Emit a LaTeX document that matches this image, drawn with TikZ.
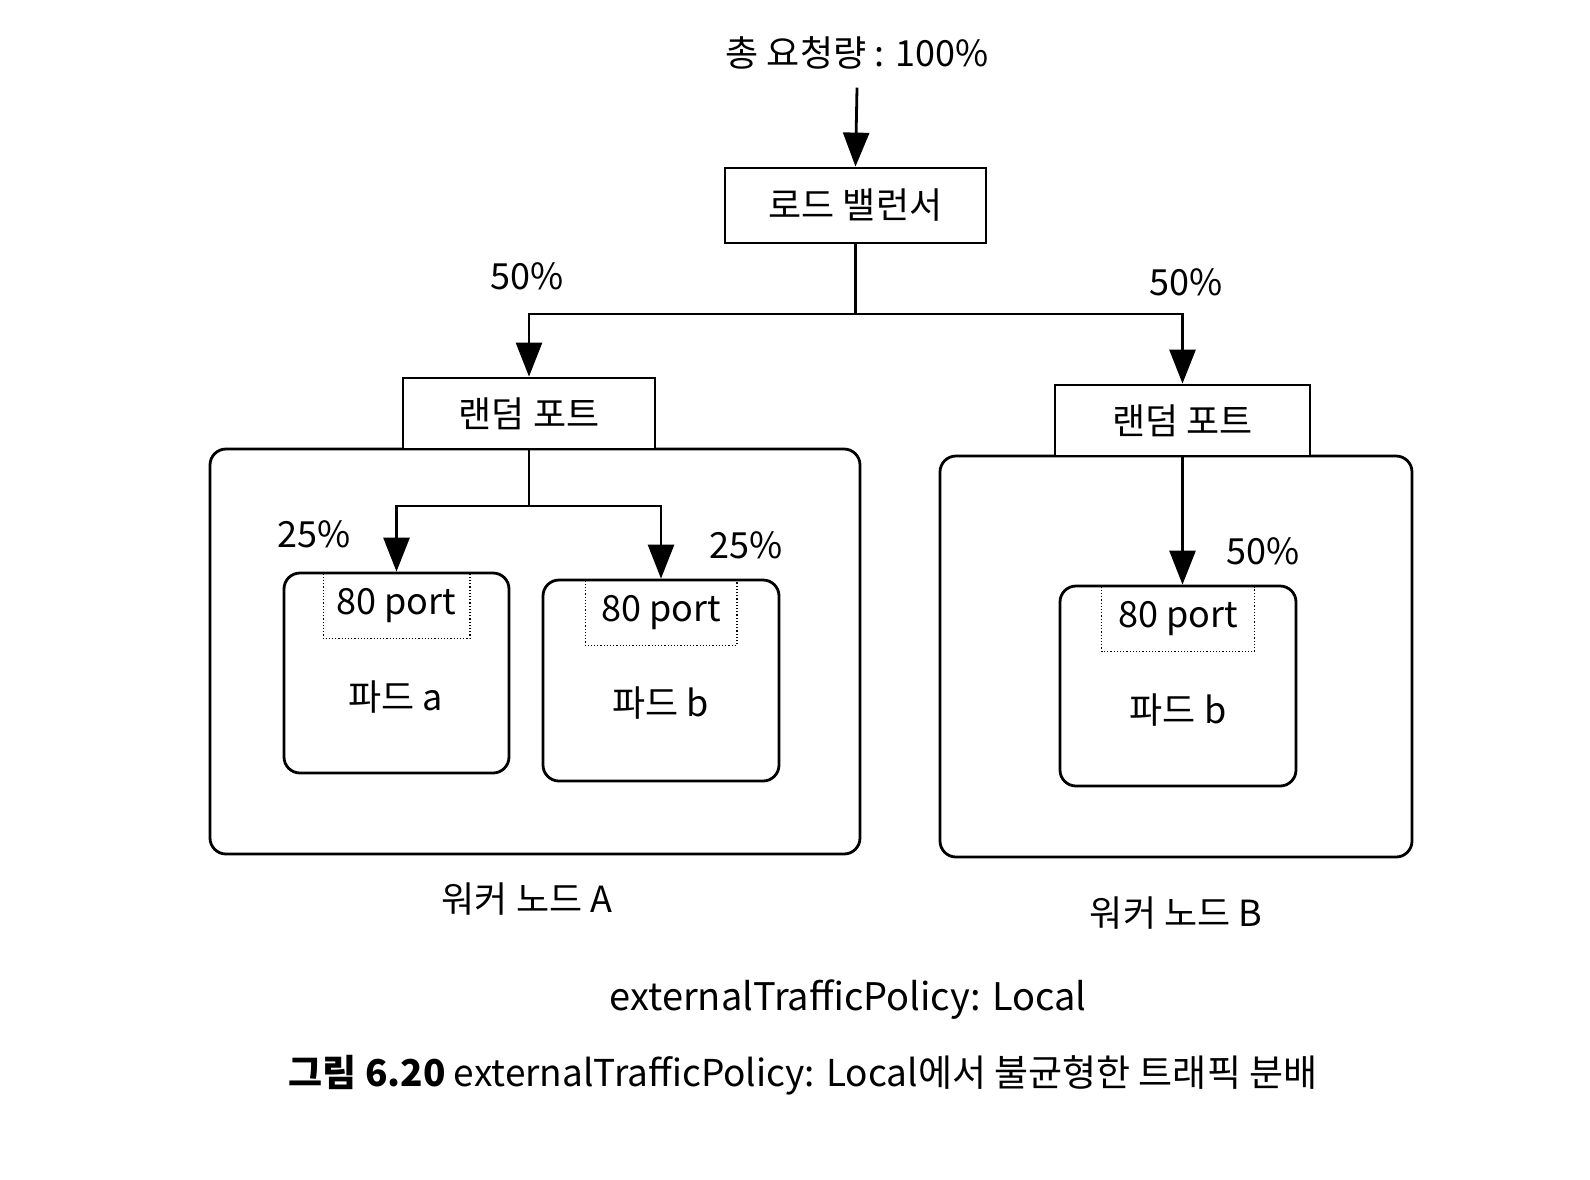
\documentclass[tikz,border=0pt]{standalone}
\usepackage{fontspec}
\setmainfont{Noto Sans CJK KR}
\usetikzlibrary{arrows.meta}
\begin{document}
\begin{tikzpicture}[x=0.5pt,y=-0.5pt,
  txt/.style={font=\fontsize{18}{22}\selectfont, inner sep=0pt},
  box/.style={draw, line width=1.4pt, fill=white, font=\fontsize{18}{22}\selectfont, inner sep=0pt},
  rbox/.style={draw, line width=1.4pt, rounded corners=8pt, inner sep=0pt},
  portbox/.style={font=\fontsize{18}{22}\selectfont, inner sep=0pt, minimum height=32pt},
  arr/.style={line width=1.4pt, -{Triangle[length=17pt,width=13pt]}},
  ln/.style={line width=1.4pt},
  dotbox/.style={line width=0.6pt, densely dotted}
]
\useasboundingbox (0,0) rectangle (1590,1179);

% title
\node[txt] (title) at (857,53) {총 요청량 : 100\%};
\node[box, minimum width=130.5pt, minimum height=37.5pt] (lb) at (855.5,205.5) {로드 밸런서};

% worker boxes
\node[rbox, minimum width=325pt, minimum height=202.5pt] (wA) at (535,651.5) {};
\node[rbox, minimum width=236pt, minimum height=200.5pt] (wB) at (1176,656.5) {};

% random port boxes
\node[box, minimum width=126pt, minimum height=35.5pt] (pA) at (529,413.5) {랜덤 포트};
\node[box, minimum width=127.5pt, minimum height=35.5pt] (pB) at (1182.5,420.5) {랜덤 포트};

% pods
\node[rbox, minimum width=112.5pt, minimum height=100pt] (pa) at (396.5,673) {};
\node[rbox, minimum width=118pt, minimum height=100.5pt] (pb) at (661,680.5) {};
\node[rbox, minimum width=118pt, minimum height=100pt] (pc) at (1178,686) {};

% 80 port dotted boxes
\node[portbox, minimum width=73pt, anchor=north] (qa) at ([yshift=-1pt]pa.north) {80 port};
\node[portbox, minimum width=75.5pt, anchor=north] (qb) at ([yshift=-1pt]pb.north) {80 port};
\node[portbox, minimum width=76pt, anchor=north] (qc) at ([yshift=-1pt]pc.north) {80 port};
\draw[dotbox] (qa.north west) |- (qa.south east) -- (qa.north east);
\draw[dotbox] (qb.north west) |- (qb.south east) -- (qb.north east);
\draw[dotbox] (qc.north west) |- (qc.south east) -- (qc.north east);

% pod labels
\node[txt] (la) at (396,697) {파드 a};
\node[txt] (lbp) at (661,703) {파드 b};
\node[txt] (lc) at (1178,710) {파드 b};

% connectors
\draw[arr] ([yshift=-9pt]title.south) -- (lb.north);
\draw[ln] (lb.south) -- (lb.south |- 0,314);
\draw[arr] (lb.south |- 0,314) -| (pA.north);
\draw[arr] (lb.south |- 0,314) -| (pB.north);
\draw[ln] (pA.south) -- (pA.south |- 0,506);
\draw[arr] (pA.south |- 0,506) -| (pa.north);
\draw[arr] (pA.south |- 0,506) -| (pb.north);
\draw[arr] (pB.south) -- (pB.south |- pc.north);

% percentages
\node[txt] (p1) at (527,276) {50\%};
\node[txt] (p2) at (1186,282) {50\%};
\node[txt] (p3) at (314,534) {25\%};
\node[txt] (p4) at (746,545) {25\%};
\node[txt] (p5) at (1263,551) {50\%};

% worker labels
\node[txt] (nA) at (527,899) {워커 노드 A};
\node[txt] (nB) at (1176,913) {워커 노드 B};

% policy + caption
\node[txt, font=\fontsize{19}{23}\selectfont] (pol) at (848,1000) {externalTrafficPolicy: Local};
\node[txt, font=\fontsize{18.5}{22}\selectfont] (cap) at (803,1075) {\textbf{그림 6.20} externalTrafficPolicy: Local에서 불균형한 트래픽 분배};
\end{tikzpicture}
\end{document}
